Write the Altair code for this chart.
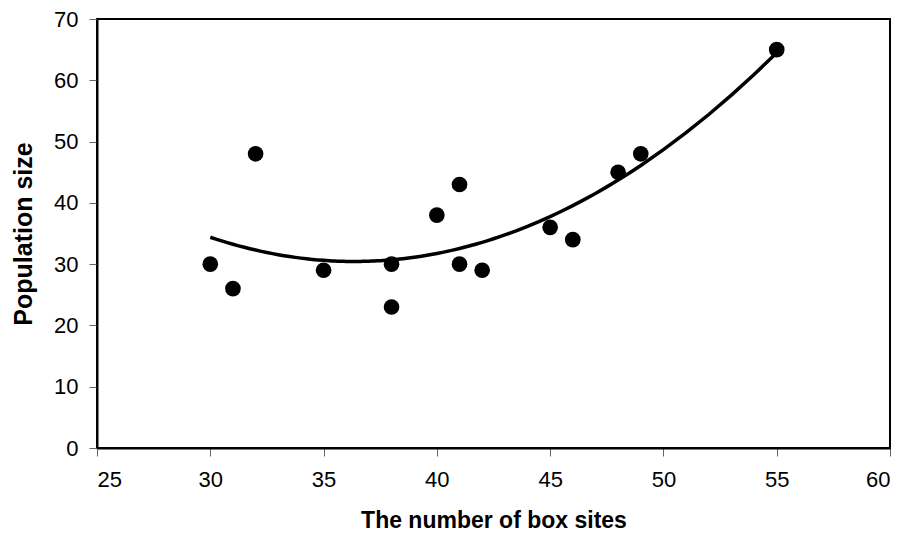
import altair as alt
import pandas as pd

box_sites = [30, 31, 32, 35, 38, 38, 40, 41, 41, 42, 45, 46, 48, 49, 55]
population = [30, 26, 48, 29, 30, 23, 38, 43, 30, 29, 36, 34, 45, 48, 65]

df = pd.DataFrame({"x": box_sites, "y": population})

FONT = "Liberation Sans"

x_enc = alt.X(
    "x:Q",
    scale=alt.Scale(domain=[25, 60], nice=False, zero=False),
    axis=alt.Axis(
        title="The number of box sites",
        values=[25, 30, 35, 40, 45, 50, 55, 60],
        grid=False,
        tickSize=8,
        tickColor="#666666",
        tickWidth=1,
        domainColor="black",
        domainWidth=2,
        labelFont=FONT,
        labelFontSize=22,
        labelColor="black",
        labelPadding=13,
        titleFont=FONT,
        titleFontSize=23,
        titleFontWeight="bold",
        titleColor="black",
        titleBaseline="alphabetic",
        titleY=79,
    ),
)
y_enc = alt.Y(
    "y:Q",
    scale=alt.Scale(domain=[0, 70], nice=False),
    axis=alt.Axis(
        title="Population size",
        values=[0, 10, 20, 30, 40, 50, 60, 70],
        grid=False,
        tickSize=8,
        tickColor="#666666",
        tickWidth=1,
        domainColor="black",
        domainWidth=2,
        labelFont=FONT,
        labelFontSize=22,
        labelColor="black",
        labelPadding=11,
        titleFont=FONT,
        titleFontSize=25,
        titleFontWeight="bold",
        titleColor="black",
        titleBaseline="middle",
        titleX=-74,
    ),
)

base = alt.Chart(df)

points = base.mark_circle(size=245, color="black", opacity=1).encode(x=x_enc, y=y_enc)

curve = base.transform_regression(
    "x", "y", method="poly", order=2
).mark_line(color="black", strokeWidth=3.5).encode(x=x_enc, y=y_enc)

chart = (
    alt.layer(curve, points)
    .properties(
        width=793,
        height=429,
        autosize=alt.AutoSizeParams(type="none"),
        padding={"left": 89, "top": 11, "right": 8, "bottom": 84},
        background="white",
    )
    .configure_view(stroke="black", strokeWidth=2)
)

chart.save("out.html", embed_options={"renderer": "svg", "actions": False})
